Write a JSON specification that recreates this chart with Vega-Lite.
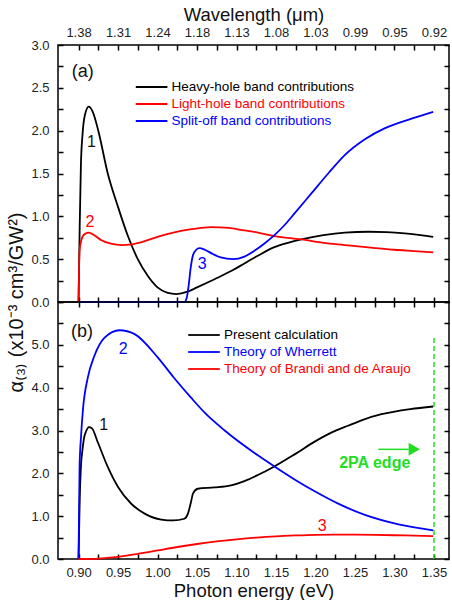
{
  "$schema": "https://vega.github.io/schema/vega-lite/v6.json",
  "background": "white",
  "padding": {"left": 5, "top": 4, "right": 0, "bottom": 0},
  "spacing": 0,
  "bounds": "flush",
  "config": {
    "font": "Liberation Sans",
    "view": {"stroke": "#000", "strokeWidth": 1.5},
    "axis": {"domainColor": "#000", "domainWidth": 1.5, "tickColor": "#000", "tickWidth": 1.5, "grid": false, "labelFont": "Liberation Sans", "labelFontSize": 13, "labelColor": "#222", "titleFont": "Liberation Sans", "titleFontSize": 18.5, "titleFontWeight": "normal", "titleColor": "#111", "labelFlush": false, "labelOverlap": false},
    "legend": {"labelFont": "Liberation Sans", "labelFontSize": 13.5, "symbolType": "M-2,0H2", "symbolSize": 250, "symbolStrokeWidth": 1.8, "labelLimit": 400, "padding": 0, "offset": 0, "rowPadding": 1}
  },
  "datasets": {
    "a": [
      {"E": 0.9, "v": 0, "s": "Heavy-hole band contributions"},
      {"E": 0.9015, "v": 0.9, "s": "Heavy-hole band contributions"},
      {"E": 0.903, "v": 1.6, "s": "Heavy-hole band contributions"},
      {"E": 0.905, "v": 1.95, "s": "Heavy-hole band contributions"},
      {"E": 0.908, "v": 2.18, "s": "Heavy-hole band contributions"},
      {"E": 0.913, "v": 2.28, "s": "Heavy-hole band contributions"},
      {"E": 0.918, "v": 2.22, "s": "Heavy-hole band contributions"},
      {"E": 0.925, "v": 2.0, "s": "Heavy-hole band contributions"},
      {"E": 0.937, "v": 1.5, "s": "Heavy-hole band contributions"},
      {"E": 0.95, "v": 1.11, "s": "Heavy-hole band contributions"},
      {"E": 0.9625, "v": 0.77, "s": "Heavy-hole band contributions"},
      {"E": 0.975, "v": 0.5, "s": "Heavy-hole band contributions"},
      {"E": 0.988, "v": 0.3, "s": "Heavy-hole band contributions"},
      {"E": 1.0, "v": 0.17, "s": "Heavy-hole band contributions"},
      {"E": 1.012, "v": 0.11, "s": "Heavy-hole band contributions"},
      {"E": 1.024, "v": 0.093, "s": "Heavy-hole band contributions"},
      {"E": 1.038, "v": 0.12, "s": "Heavy-hole band contributions"},
      {"E": 1.05, "v": 0.17, "s": "Heavy-hole band contributions"},
      {"E": 1.064, "v": 0.23, "s": "Heavy-hole band contributions"},
      {"E": 1.08, "v": 0.3, "s": "Heavy-hole band contributions"},
      {"E": 1.095, "v": 0.37, "s": "Heavy-hole band contributions"},
      {"E": 1.11, "v": 0.45, "s": "Heavy-hole band contributions"},
      {"E": 1.127, "v": 0.54, "s": "Heavy-hole band contributions"},
      {"E": 1.148, "v": 0.64, "s": "Heavy-hole band contributions"},
      {"E": 1.165, "v": 0.69, "s": "Heavy-hole band contributions"},
      {"E": 1.182, "v": 0.73, "s": "Heavy-hole band contributions"},
      {"E": 1.21, "v": 0.78, "s": "Heavy-hole band contributions"},
      {"E": 1.237, "v": 0.81, "s": "Heavy-hole band contributions"},
      {"E": 1.267, "v": 0.82, "s": "Heavy-hole band contributions"},
      {"E": 1.29, "v": 0.815, "s": "Heavy-hole band contributions"},
      {"E": 1.313, "v": 0.8, "s": "Heavy-hole band contributions"},
      {"E": 1.349, "v": 0.76, "s": "Heavy-hole band contributions"},
      {"E": 0.9, "v": 0, "s": "Light-hole band contributions"},
      {"E": 0.9013, "v": 0.6, "s": "Light-hole band contributions"},
      {"E": 0.9035, "v": 0.72, "s": "Light-hole band contributions"},
      {"E": 0.9055, "v": 0.77, "s": "Light-hole band contributions"},
      {"E": 0.909, "v": 0.8, "s": "Light-hole band contributions"},
      {"E": 0.913, "v": 0.81, "s": "Light-hole band contributions"},
      {"E": 0.92, "v": 0.78, "s": "Light-hole band contributions"},
      {"E": 0.929, "v": 0.72, "s": "Light-hole band contributions"},
      {"E": 0.941, "v": 0.68, "s": "Light-hole band contributions"},
      {"E": 0.955, "v": 0.665, "s": "Light-hole band contributions"},
      {"E": 0.965, "v": 0.67, "s": "Light-hole band contributions"},
      {"E": 0.98, "v": 0.7, "s": "Light-hole band contributions"},
      {"E": 1.0, "v": 0.76, "s": "Light-hole band contributions"},
      {"E": 1.02, "v": 0.81, "s": "Light-hole band contributions"},
      {"E": 1.043, "v": 0.85, "s": "Light-hole band contributions"},
      {"E": 1.068, "v": 0.875, "s": "Light-hole band contributions"},
      {"E": 1.09, "v": 0.865, "s": "Light-hole band contributions"},
      {"E": 1.11, "v": 0.835, "s": "Light-hole band contributions"},
      {"E": 1.127, "v": 0.81, "s": "Light-hole band contributions"},
      {"E": 1.148, "v": 0.77, "s": "Light-hole band contributions"},
      {"E": 1.182, "v": 0.73, "s": "Light-hole band contributions"},
      {"E": 1.21, "v": 0.69, "s": "Light-hole band contributions"},
      {"E": 1.237, "v": 0.665, "s": "Light-hole band contributions"},
      {"E": 1.27, "v": 0.635, "s": "Light-hole band contributions"},
      {"E": 1.3, "v": 0.61, "s": "Light-hole band contributions"},
      {"E": 1.325, "v": 0.595, "s": "Light-hole band contributions"},
      {"E": 1.349, "v": 0.58, "s": "Light-hole band contributions"},
      {"E": 0.9, "v": 0, "s": "Split-off band contributions"},
      {"E": 1.034, "v": 0, "s": "Split-off band contributions"},
      {"E": 1.037, "v": 0.05, "s": "Split-off band contributions"},
      {"E": 1.0395, "v": 0.2, "s": "Split-off band contributions"},
      {"E": 1.042, "v": 0.4, "s": "Split-off band contributions"},
      {"E": 1.045, "v": 0.55, "s": "Split-off band contributions"},
      {"E": 1.049, "v": 0.61, "s": "Split-off band contributions"},
      {"E": 1.053, "v": 0.63, "s": "Split-off band contributions"},
      {"E": 1.06, "v": 0.61, "s": "Split-off band contributions"},
      {"E": 1.07, "v": 0.56, "s": "Split-off band contributions"},
      {"E": 1.08, "v": 0.52, "s": "Split-off band contributions"},
      {"E": 1.0956, "v": 0.5, "s": "Split-off band contributions"},
      {"E": 1.11, "v": 0.53, "s": "Split-off band contributions"},
      {"E": 1.123, "v": 0.6, "s": "Split-off band contributions"},
      {"E": 1.135, "v": 0.68, "s": "Split-off band contributions"},
      {"E": 1.148, "v": 0.78, "s": "Split-off band contributions"},
      {"E": 1.16, "v": 0.89, "s": "Split-off band contributions"},
      {"E": 1.174, "v": 1.04, "s": "Split-off band contributions"},
      {"E": 1.195, "v": 1.27, "s": "Split-off band contributions"},
      {"E": 1.216, "v": 1.5, "s": "Split-off band contributions"},
      {"E": 1.237, "v": 1.715, "s": "Split-off band contributions"},
      {"E": 1.2625, "v": 1.9, "s": "Split-off band contributions"},
      {"E": 1.288, "v": 2.03, "s": "Split-off band contributions"},
      {"E": 1.3215, "v": 2.14, "s": "Split-off band contributions"},
      {"E": 1.349, "v": 2.22, "s": "Split-off band contributions"}
    ],
    "b": [
      {"E": 0.9, "v": 0, "s": "Present calculation"},
      {"E": 0.9015, "v": 1.4, "s": "Present calculation"},
      {"E": 0.903, "v": 2.15, "s": "Present calculation"},
      {"E": 0.905, "v": 2.55, "s": "Present calculation"},
      {"E": 0.9067, "v": 2.8, "s": "Present calculation"},
      {"E": 0.91, "v": 3.0, "s": "Present calculation"},
      {"E": 0.913, "v": 3.08, "s": "Present calculation"},
      {"E": 0.917, "v": 3.05, "s": "Present calculation"},
      {"E": 0.9245, "v": 2.72, "s": "Present calculation"},
      {"E": 0.937, "v": 2.15, "s": "Present calculation"},
      {"E": 0.95, "v": 1.68, "s": "Present calculation"},
      {"E": 0.9667, "v": 1.29, "s": "Present calculation"},
      {"E": 0.9837, "v": 1.06, "s": "Present calculation"},
      {"E": 1.0047, "v": 0.92, "s": "Present calculation"},
      {"E": 1.02, "v": 0.9, "s": "Present calculation"},
      {"E": 1.034, "v": 0.94, "s": "Present calculation"},
      {"E": 1.0385, "v": 1.06, "s": "Present calculation"},
      {"E": 1.042, "v": 1.3, "s": "Present calculation"},
      {"E": 1.045, "v": 1.53, "s": "Present calculation"},
      {"E": 1.051, "v": 1.64, "s": "Present calculation"},
      {"E": 1.072, "v": 1.67, "s": "Present calculation"},
      {"E": 1.093, "v": 1.72, "s": "Present calculation"},
      {"E": 1.11, "v": 1.82, "s": "Present calculation"},
      {"E": 1.127, "v": 1.96, "s": "Present calculation"},
      {"E": 1.148, "v": 2.16, "s": "Present calculation"},
      {"E": 1.175, "v": 2.46, "s": "Present calculation"},
      {"E": 1.199, "v": 2.74, "s": "Present calculation"},
      {"E": 1.22, "v": 2.95, "s": "Present calculation"},
      {"E": 1.241, "v": 3.11, "s": "Present calculation"},
      {"E": 1.26, "v": 3.25, "s": "Present calculation"},
      {"E": 1.2835, "v": 3.38, "s": "Present calculation"},
      {"E": 1.32, "v": 3.5, "s": "Present calculation"},
      {"E": 1.349, "v": 3.56, "s": "Present calculation"},
      {"E": 0.9, "v": 0, "s": "Theory of Wherrett"},
      {"E": 0.9013, "v": 2.15, "s": "Theory of Wherrett"},
      {"E": 0.9033, "v": 2.9, "s": "Theory of Wherrett"},
      {"E": 0.9055, "v": 3.47, "s": "Theory of Wherrett"},
      {"E": 0.9118, "v": 4.24, "s": "Theory of Wherrett"},
      {"E": 0.92, "v": 4.74, "s": "Theory of Wherrett"},
      {"E": 0.933, "v": 5.17, "s": "Theory of Wherrett"},
      {"E": 0.952, "v": 5.34, "s": "Theory of Wherrett"},
      {"E": 0.971, "v": 5.25, "s": "Theory of Wherrett"},
      {"E": 1.0005, "v": 4.7, "s": "Theory of Wherrett"},
      {"E": 1.02, "v": 4.25, "s": "Theory of Wherrett"},
      {"E": 1.0427, "v": 3.76, "s": "Theory of Wherrett"},
      {"E": 1.06, "v": 3.41, "s": "Theory of Wherrett"},
      {"E": 1.085, "v": 3.0, "s": "Theory of Wherrett"},
      {"E": 1.127, "v": 2.42, "s": "Theory of Wherrett"},
      {"E": 1.148, "v": 2.16, "s": "Theory of Wherrett"},
      {"E": 1.175, "v": 1.84, "s": "Theory of Wherrett"},
      {"E": 1.199, "v": 1.58, "s": "Theory of Wherrett"},
      {"E": 1.23, "v": 1.28, "s": "Theory of Wherrett"},
      {"E": 1.2625, "v": 1.03, "s": "Theory of Wherrett"},
      {"E": 1.305, "v": 0.81, "s": "Theory of Wherrett"},
      {"E": 1.349, "v": 0.67, "s": "Theory of Wherrett"},
      {"E": 0.9, "v": 0, "s": "Theory of Brandi and de Araujo"},
      {"E": 0.925, "v": 0.01, "s": "Theory of Brandi and de Araujo"},
      {"E": 0.95, "v": 0.05, "s": "Theory of Brandi and de Araujo"},
      {"E": 0.975, "v": 0.12, "s": "Theory of Brandi and de Araujo"},
      {"E": 1.0, "v": 0.2, "s": "Theory of Brandi and de Araujo"},
      {"E": 1.025, "v": 0.28, "s": "Theory of Brandi and de Araujo"},
      {"E": 1.05, "v": 0.35, "s": "Theory of Brandi and de Araujo"},
      {"E": 1.075, "v": 0.41, "s": "Theory of Brandi and de Araujo"},
      {"E": 1.1, "v": 0.46, "s": "Theory of Brandi and de Araujo"},
      {"E": 1.125, "v": 0.5, "s": "Theory of Brandi and de Araujo"},
      {"E": 1.15, "v": 0.53, "s": "Theory of Brandi and de Araujo"},
      {"E": 1.175, "v": 0.55, "s": "Theory of Brandi and de Araujo"},
      {"E": 1.2, "v": 0.565, "s": "Theory of Brandi and de Araujo"},
      {"E": 1.225, "v": 0.57, "s": "Theory of Brandi and de Araujo"},
      {"E": 1.25, "v": 0.57, "s": "Theory of Brandi and de Araujo"},
      {"E": 1.275, "v": 0.565, "s": "Theory of Brandi and de Araujo"},
      {"E": 1.3, "v": 0.555, "s": "Theory of Brandi and de Araujo"},
      {"E": 1.325, "v": 0.545, "s": "Theory of Brandi and de Araujo"},
      {"E": 1.349, "v": 0.535, "s": "Theory of Brandi and de Araujo"}
    ]
  },
  "resolve": {"scale": {"x": "independent", "y": "independent", "color": "independent"}},
  "vconcat": [
    {
      "width": 391,
      "height": 257,
      "resolve": {"axis": {"x": "independent", "y": "independent"}},
      "layer": [
        {
          "data": {"name": "a"},
          "mark": {"type": "line", "strokeWidth": 1.8, "interpolate": "monotone"},
          "encoding": {
            "x": {"field": "E", "type": "quantitative", "scale": {"domain": [0.874, 1.369], "nice": false, "zero": false},
              "axis": {"orient": "bottom", "values": [0.9, 0.925, 0.95, 0.975, 1.0, 1.025, 1.05, 1.075, 1.1, 1.125, 1.15, 1.175, 1.2, 1.225, 1.25, 1.275, 1.3, 1.325, 1.35],
                "ticks": true, "domain": true, "domainOpacity": 0, "tickColor": "#000", "tickWidth": 1.5, "tickSize": 5, "offset": -5,
                "labels": false, "title": null}},
            "y": {"field": "v", "type": "quantitative", "scale": {"domain": [0, 3], "nice": false, "zero": false},
              "axis": {"orient": "left", "values": [0, 0.25, 0.5, 0.75, 1, 1.25, 1.5, 1.75, 2, 2.25, 2.5, 2.75, 3],
                "ticks": true, "domain": true, "domainOpacity": 0, "tickColor": "#000", "tickWidth": 1.5, "tickSize": 5, "offset": -5,
                "labelExpr": "abs(datum.value*2 - round(datum.value*2)) < 0.01 ? format(datum.value, '.1f') : ''",
                "labelPadding": 9, "title": null}},
            "color": {"field": "s", "type": "nominal",
              "scale": {"domain": ["Heavy-hole band contributions", "Light-hole band contributions", "Split-off band contributions"], "range": ["#000000", "#ff0000", "#0000ff"]},
              "legend": {"orient": "none", "legendX": 84.6, "legendY": 33, "title": null, "labelOffset": 11,
                "encode": {"labels": {"update": {"fill": {"signal": "datum.value === 'Light-hole band contributions' ? '#ff0000' : datum.value === 'Split-off band contributions' ? '#0000ff' : '#000000'"}}}}}}
          }
        },
        {
          "data": {"name": "a"},
          "mark": {"type": "line", "opacity": 0},
          "encoding": {
            "x": {"field": "E", "type": "quantitative", "scale": {"domain": [0.874, 1.369], "nice": false, "zero": false},
              "axis": {"orient": "top", "values": [0.9, 0.925, 0.95, 0.975, 1.0, 1.025, 1.05, 1.075, 1.1, 1.125, 1.15, 1.175, 1.2, 1.225, 1.25, 1.275, 1.3, 1.325, 1.35],
                "ticks": true, "domain": true, "domainOpacity": 0, "tickColor": "#000", "tickWidth": 1.5, "tickSize": 5, "offset": -5,
                "labelExpr": "abs(datum.value*20 - round(datum.value*20)) < 0.01 ? format(1.24/datum.value, '.2f') : ''",
                "labelPadding": 6, "title": "Wavelength (μm)", "titlePadding": 2}},
            "y": {"field": "v", "type": "quantitative", "scale": {"domain": [0, 3], "nice": false, "zero": false},
              "axis": {"orient": "right", "values": [0, 0.25, 0.5, 0.75, 1, 1.25, 1.5, 1.75, 2, 2.25, 2.5, 2.75, 3],
                "ticks": true, "domain": true, "domainOpacity": 0, "tickColor": "#000", "tickWidth": 1.5, "tickSize": 5, "offset": -5,
                "labels": false, "title": null}},
            "detail": {"field": "s"}
          }
        },
        {
          "data": {"values": [{"E": 0.9052, "v": 2.68, "t": "(a)"}]},
          "mark": {"type": "text", "color": "#111", "fontSize": 18, "font": "Liberation Sans"},
          "encoding": {
            "x": {"field": "E", "type": "quantitative", "scale": {"domain": [0.874, 1.369], "nice": false, "zero": false}, "axis": null},
            "y": {"field": "v", "type": "quantitative", "scale": {"domain": [0, 3], "nice": false, "zero": false}, "axis": null},
            "text": {"field": "t"}
          }
        },
        {
          "data": {"values": [{"E": 0.9165, "v": 1.87, "t": "1"}]},
          "mark": {"type": "text", "color": "#111", "fontSize": 16, "font": "Liberation Sans"},
          "encoding": {
            "x": {"field": "E", "type": "quantitative", "scale": {"domain": [0.874, 1.369], "nice": false, "zero": false}, "axis": null},
            "y": {"field": "v", "type": "quantitative", "scale": {"domain": [0, 3], "nice": false, "zero": false}, "axis": null},
            "text": {"field": "t"}
          }
        },
        {
          "data": {"values": [{"E": 0.9146, "v": 0.93, "t": "2"}]},
          "mark": {"type": "text", "color": "#ff0000", "fontSize": 16, "font": "Liberation Sans"},
          "encoding": {
            "x": {"field": "E", "type": "quantitative", "scale": {"domain": [0.874, 1.369], "nice": false, "zero": false}, "axis": null},
            "y": {"field": "v", "type": "quantitative", "scale": {"domain": [0, 3], "nice": false, "zero": false}, "axis": null},
            "text": {"field": "t"}
          }
        },
        {
          "data": {"values": [{"E": 1.0565, "v": 0.44, "t": "3"}]},
          "mark": {"type": "text", "color": "#0000ff", "fontSize": 16, "font": "Liberation Sans"},
          "encoding": {
            "x": {"field": "E", "type": "quantitative", "scale": {"domain": [0.874, 1.369], "nice": false, "zero": false}, "axis": null},
            "y": {"field": "v", "type": "quantitative", "scale": {"domain": [0, 3], "nice": false, "zero": false}, "axis": null},
            "text": {"field": "t"}
          }
        }
      ]
    },
    {
      "width": 391,
      "height": 257,
      "resolve": {"axis": {"x": "independent", "y": "independent"}},
      "layer": [
        {
          "data": {"name": "b"},
          "mark": {"type": "line", "strokeWidth": 1.8, "interpolate": "monotone"},
          "encoding": {
            "x": {"field": "E", "type": "quantitative", "scale": {"domain": [0.874, 1.369], "nice": false, "zero": false},
              "axis": {"orient": "bottom", "values": [0.9, 0.925, 0.95, 0.975, 1.0, 1.025, 1.05, 1.075, 1.1, 1.125, 1.15, 1.175, 1.2, 1.225, 1.25, 1.275, 1.3, 1.325, 1.35],
                "ticks": true, "domain": true, "domainOpacity": 0, "tickColor": "#000", "tickWidth": 1.5, "tickSize": 5, "offset": -5,
                "labelExpr": "abs(datum.value*20 - round(datum.value*20)) < 0.01 ? format(datum.value, '.2f') : ''",
                "labelPadding": 7, "title": "Photon energy (eV)", "titlePadding": 2}},
            "y": {"field": "v", "type": "quantitative", "scale": {"domain": [0, 6], "nice": false, "zero": false},
              "axis": {"orient": "left", "values": [0, 0.5, 1, 1.5, 2, 2.5, 3, 3.5, 4, 4.5, 5, 5.5, 6],
                "ticks": true, "domain": true, "domainOpacity": 0, "tickColor": "#000", "tickWidth": 1.5, "tickSize": 5, "offset": -5,
                "labelExpr": "abs(datum.value - round(datum.value)) < 0.01 && datum.value < 5.5 ? format(datum.value, '.1f') : ''",
                "labelPadding": 9, "title": "α₍₃₎ (x10⁻³ cm³/GW²)", "titleFontSize": 20,
                "titleX": -47, "titleY": 0, "titleAngle": 270, "titleAlign": "center", "titleBaseline": "middle"}},
            "color": {"field": "s", "type": "nominal",
              "scale": {"domain": ["Present calculation", "Theory of Wherrett", "Theory of Brandi and de Araujo"], "range": ["#000000", "#0000ff", "#ff0000"]},
              "legend": {"orient": "none", "legendX": 137, "legendY": 24, "title": null, "labelOffset": 11,
                "encode": {"labels": {"update": {"fill": {"signal": "datum.value === 'Theory of Wherrett' ? '#0000ff' : datum.value === 'Theory of Brandi and de Araujo' ? '#ff0000' : '#000000'"}}}}}}
          }
        },
        {
          "data": {"name": "b"},
          "mark": {"type": "line", "opacity": 0},
          "encoding": {
            "x": {"field": "E", "type": "quantitative", "scale": {"domain": [0.874, 1.369], "nice": false, "zero": false},
              "axis": {"orient": "top", "values": [0.9, 0.925, 0.95, 0.975, 1.0, 1.025, 1.05, 1.075, 1.1, 1.125, 1.15, 1.175, 1.2, 1.225, 1.25, 1.275, 1.3, 1.325, 1.35],
                "ticks": true, "domain": true, "domainOpacity": 0, "tickColor": "#000", "tickWidth": 1.5, "tickSize": 5, "offset": -5,
                "labels": false, "title": null}},
            "y": {"field": "v", "type": "quantitative", "scale": {"domain": [0, 6], "nice": false, "zero": false},
              "axis": {"orient": "right", "values": [0, 0.5, 1, 1.5, 2, 2.5, 3, 3.5, 4, 4.5, 5, 5.5, 6],
                "ticks": true, "domain": true, "domainOpacity": 0, "tickColor": "#000", "tickWidth": 1.5, "tickSize": 5, "offset": -5,
                "labels": false, "title": null}},
            "detail": {"field": "s"}
          }
        },
        {
          "data": {"values": [{}]},
          "mark": {"type": "rule", "color": "#22dd22", "strokeWidth": 1.5, "strokeDash": [5, 3]},
          "encoding": {
            "x": {"datum": 1.35, "type": "quantitative", "scale": {"domain": [0.874, 1.369], "nice": false, "zero": false}, "axis": null},
            "y": {"datum": 0, "type": "quantitative", "scale": {"domain": [0, 6], "nice": false, "zero": false}, "axis": null},
            "y2": {"datum": 5.2}
          }
        },
        {
          "data": {"values": [{}]},
          "mark": {"type": "rule", "color": "#22dd22", "strokeWidth": 1.5},
          "encoding": {
            "x": {"datum": 1.2795, "type": "quantitative", "scale": {"domain": [0.874, 1.369], "nice": false, "zero": false}, "axis": null},
            "x2": {"datum": 1.318},
            "y": {"datum": 2.56, "type": "quantitative", "scale": {"domain": [0, 6], "nice": false, "zero": false}, "axis": null}
          }
        },
        {
          "data": {"values": [{}]},
          "mark": {"type": "point", "shape": "triangle-right", "filled": true, "color": "#22dd22", "size": 170, "opacity": 1},
          "encoding": {
            "x": {"datum": 1.325, "type": "quantitative", "scale": {"domain": [0.874, 1.369], "nice": false, "zero": false}, "axis": null},
            "y": {"datum": 2.56, "type": "quantitative", "scale": {"domain": [0, 6], "nice": false, "zero": false}, "axis": null}
          }
        },
        {
          "data": {"values": [{"E": 1.275, "v": 2.23, "t": "2PA edge"}]},
          "mark": {"type": "text", "color": "#22dd22", "fontSize": 16, "fontWeight": "bold", "font": "Liberation Sans"},
          "encoding": {
            "x": {"field": "E", "type": "quantitative", "scale": {"domain": [0.874, 1.369], "nice": false, "zero": false}, "axis": null},
            "y": {"field": "v", "type": "quantitative", "scale": {"domain": [0, 6], "nice": false, "zero": false}, "axis": null},
            "text": {"field": "t"}
          }
        },
        {
          "data": {"values": [{"E": 0.9045, "v": 5.29, "t": "(b)"}]},
          "mark": {"type": "text", "color": "#111", "fontSize": 18, "font": "Liberation Sans"},
          "encoding": {
            "x": {"field": "E", "type": "quantitative", "scale": {"domain": [0.874, 1.369], "nice": false, "zero": false}, "axis": null},
            "y": {"field": "v", "type": "quantitative", "scale": {"domain": [0, 6], "nice": false, "zero": false}, "axis": null},
            "text": {"field": "t"}
          }
        },
        {
          "data": {"values": [{"E": 0.932, "v": 3.12, "t": "1"}]},
          "mark": {"type": "text", "color": "#111", "fontSize": 16, "font": "Liberation Sans"},
          "encoding": {
            "x": {"field": "E", "type": "quantitative", "scale": {"domain": [0.874, 1.369], "nice": false, "zero": false}, "axis": null},
            "y": {"field": "v", "type": "quantitative", "scale": {"domain": [0, 6], "nice": false, "zero": false}, "axis": null},
            "text": {"field": "t"}
          }
        },
        {
          "data": {"values": [{"E": 0.9564, "v": 4.9, "t": "2"}]},
          "mark": {"type": "text", "color": "#0000ff", "fontSize": 16, "font": "Liberation Sans"},
          "encoding": {
            "x": {"field": "E", "type": "quantitative", "scale": {"domain": [0.874, 1.369], "nice": false, "zero": false}, "axis": null},
            "y": {"field": "v", "type": "quantitative", "scale": {"domain": [0, 6], "nice": false, "zero": false}, "axis": null},
            "text": {"field": "t"}
          }
        },
        {
          "data": {"values": [{"E": 1.2086, "v": 0.77, "t": "3"}]},
          "mark": {"type": "text", "color": "#ff0000", "fontSize": 16, "font": "Liberation Sans"},
          "encoding": {
            "x": {"field": "E", "type": "quantitative", "scale": {"domain": [0.874, 1.369], "nice": false, "zero": false}, "axis": null},
            "y": {"field": "v", "type": "quantitative", "scale": {"domain": [0, 6], "nice": false, "zero": false}, "axis": null},
            "text": {"field": "t"}
          }
        }
      ]
    }
  ]
}
